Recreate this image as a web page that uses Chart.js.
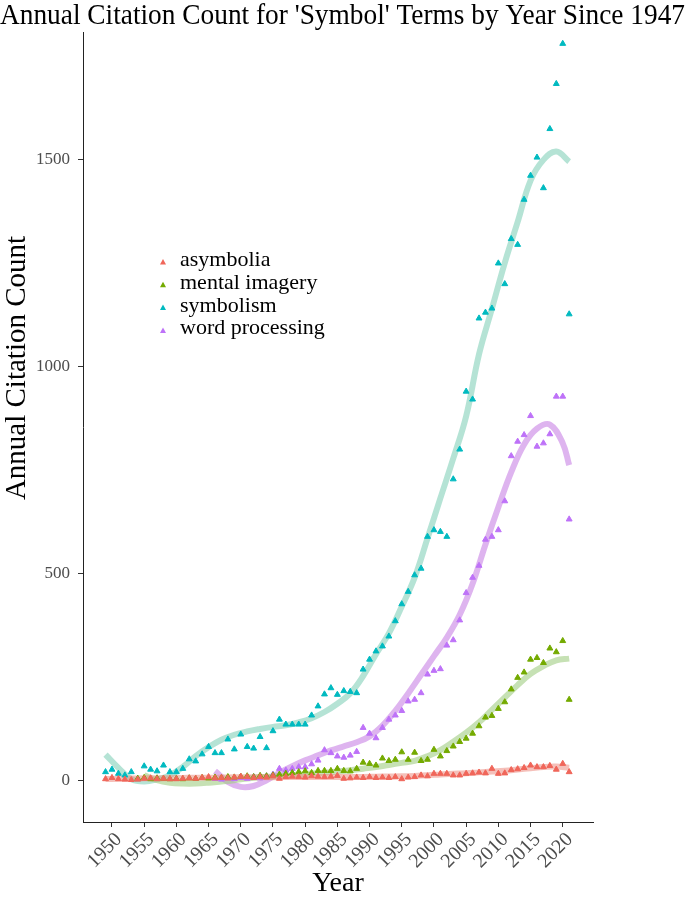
<!DOCTYPE html>
<html>
<head>
<meta charset="utf-8">
<script src="https://cdn.jsdelivr.net/npm/chart.js@4.4.1/dist/chart.umd.min.js"></script>
<style>
  html, body { margin: 0; padding: 0; background: #fff; }
  #wrap { width: 685px; height: 901px; }
</style>
</head>
<body>
<div id="wrap"><canvas id="citationChart" width="685" height="901"></canvas></div>
<script>
// ----------------- Data -----------------
const seriesNames = ['asymbolia', 'mental imagery', 'symbolism', 'word processing'];

const years = [
  1949, 1950, 1951, 1952, 1953, 1954, 1955, 1956, 1957, 1958,
  1959, 1960, 1961, 1962, 1963, 1964, 1965, 1966, 1967, 1968,
  1969, 1970, 1971, 1972, 1973, 1974, 1975, 1976, 1977, 1978,
  1979, 1980, 1981, 1982, 1983, 1984, 1985, 1986, 1987, 1988,
  1989, 1990, 1991, 1992, 1993, 1994, 1995, 1996, 1997, 1998,
  1999, 2000, 2001, 2002, 2003, 2004, 2005, 2006, 2007, 2008,
  2009, 2010, 2011, 2012, 2013, 2014, 2015, 2016, 2017, 2018,
  2019, 2020, 2021
];

const asymbolia = [
  3, 6, 3, 2, 1, 2, 4, 5, 3, 4,
  3, 3, 4, 5, 4, 6, 8, 5, 6, 5,
  7, 9, 8, 6, 8, 7, 10, 4, 8, 9,
  8, 7, 10, 9, 8, 9, 11, 4, 5, 7,
  6, 8, 6, 7, 6, 8, 3, 7, 8, 12,
  10, 16, 16, 16, 12, 12, 16, 17, 19, 17,
  28, 16, 17, 25, 27, 30, 36, 32, 32, 35,
  26, 40, 20
];

const mentalImagery = [
  null, null, null, null, null, 4, 6, 3, 5, 4,
  3, 4, 3, 5, 4, 6, 5, 7, 6, 8,
  7, 9, 10, 8, 11, 10, 12, 14, 16, 18,
  20, 22, 18, 23, 23, 23, 28, 23, 22, 28,
  43, 40, 36, 53, 47, 50, 68, 50, 67, 47,
  50, 74, 58, 71, 82, 93, 101, 113, 131, 152,
  156, 173, 189, 220, 248, 261, 292, 296, 284, 319,
  310, 337, 195
];

const symbolism = [
  20, 26, 16, 12, 20, 3, 34, 26, 22, 36,
  20, 20, 28, 51, 46, 63, 81, 66, 66, 99,
  75, 111, 81, 77, 105, 78, 119, 147, 135, 135,
  135, 135, 157, 179, 208, 223, 207, 216, 214, 211,
  268, 292, 312, 324, 348, 385, 426, 456, 496, 512,
  589, 605, 601, 589, 728, 800, 940, 921, 1117, 1131,
  1141, 1250, 1200, 1309, 1295, 1404, 1462, 1506, 1432, 1575,
  1684, 1781, 1127
];

const wordProcessing = [
  null, null, null, null, null, null, null, null, null, null,
  null, null, null, null, null, null, null, 4, 2, 5,
  3, 6, 4, 8, 5, 10, 14, 28, 24, 28,
  32, 32, 39, 48, 73, 66, 58, 55, 60, 69,
  127, 113, 102, 127, 147, 157, 168, 191, 195, 211,
  256, 265, 269, 326, 339, 387, 453, 490, 519, 582,
  589, 605, 675, 784, 819, 835, 881, 807, 815, 837,
  928, 928, 631
];

// smoothed trend lines
const trendYears = [
  1949, 1951, 1953, 1955, 1957, 1959, 1961, 1963, 1965, 1967,
  1969, 1971, 1973, 1975, 1977, 1979, 1981, 1983, 1985, 1987,
  1989, 1991, 1993, 1995, 1997, 1999, 2001, 2003, 2005, 2007,
  2009, 2011, 2013, 2015, 2017, 2019, 2021
];
const asymboliaTrend = [
  3, 3.5, 4, 4.5, 5, 5, 5.5, 6, 6, 6.5,
  7, 7, 7.5, 7.5, 8, 8, 8, 8, 8, 8,
  8, 8.5, 9, 9.5, 10.5, 12, 14, 15.5, 17, 19,
  21, 23, 26, 29, 32, 33, 30
];
const symbolismTrend = [
  62, 30, 3, -3, 2, 12, 32, 58, 80, 98,
  110, 118, 124, 129, 133, 140, 150, 165, 185, 210,
  252, 305, 355, 420, 490, 585, 682, 778, 880, 1030,
  1140, 1251, 1350, 1450, 1500, 1520, 1496
];

const mentalTrendYears = [
  1955, 1957, 1959, 1961, 1963, 1965, 1967, 1969, 1971, 1973,
  1975, 1977, 1979, 1981, 1983, 1985, 1987, 1989, 1991, 1993,
  1995, 1997, 1999, 2001, 2003, 2005, 2007, 2009, 2011, 2013,
  2015, 2017, 2019, 2021
];
const mentalTrend = [
  12, 0, -6, -8, -8, -6, -3, 0, 4, 7,
  9, 11, 13, 16, 18, 21, 24, 28, 32, 37,
  42, 47, 58, 73, 93, 115, 140, 170, 200, 230,
  257, 276, 290, 294
];

const wordTrendYears = [
  1966, 1968, 1970, 1972, 1974, 1976, 1978, 1980, 1982, 1984,
  1986, 1988, 1990, 1992, 1994, 1996, 1998, 2000, 2002, 2004,
  2006, 2008, 2010, 2012, 2014, 2016, 2018, 2020, 2021
];
const wordTrend = [
  22, -4, -16, -14, 0, 18, 34, 48, 60, 72,
  82, 92, 106, 132, 168, 210, 255, 300, 345, 400,
  475, 570, 660, 745, 812, 850, 860, 815, 762
];

const xTicks = [1950, 1955, 1960, 1965, 1970, 1975, 1980, 1985, 1990, 1995, 2000, 2005, 2010, 2015, 2020];
const yTicks = [0, 500, 1000, 1500];

// ----------------- Styles -----------------
const pointColors = ['#F0665A', '#74AA00', '#00BAC0', '#BE72F8'];
const lineColors = ['rgba(236,140,130,0.55)', 'rgba(160,205,130,0.6)', 'rgba(150,215,195,0.7)', 'rgba(205,140,230,0.65)'];
const serif = '"Liberation Serif", "Times New Roman", serif';

const toXY = (xs, ys) => xs.map((x, i) => ({ x: x, y: ys[i] })).filter(p => p.y !== null);

const pointSeries = [asymbolia, mentalImagery, symbolism, wordProcessing];
const trendSeries = [
  [trendYears, asymboliaTrend],
  [mentalTrendYears, mentalTrend],
  [trendYears, symbolismTrend],
  [wordTrendYears, wordTrend]
];

const datasets = [];
trendSeries.forEach((t, i) => {
  datasets.push({
    type: 'line',
    label: seriesNames[i] + ' trend',
    data: toXY(t[0], t[1]),
    borderColor: lineColors[i],
    borderWidth: 6,
    pointRadius: 0,
    tension: 0.4,
    fill: false,
    order: 2
  });
});
pointSeries.forEach((s, i) => {
  datasets.push({
    type: 'scatter',
    label: seriesNames[i],
    data: toXY(years, s),
    pointStyle: 'triangle',
    pointRadius: 3.4,
    pointBorderWidth: 1,
    backgroundColor: pointColors[i],
    borderColor: pointColors[i],
    showLine: false,
    order: 1
  });
});

// ----------------- Legend inside plot + y title -----------------
const insideLegend = {
  id: 'insideLegend',
  afterDraw(chart) {
    const ctx = chart.ctx;
    ctx.save();
    ctx.font = '22px ' + serif;
    ctx.textBaseline = 'alphabetic';
    seriesNames.forEach((name, i) => {
      const base = 266 + i * 22.8;
      const cx = 163, cy = base - 4;
      ctx.fillStyle = pointColors[i];
      ctx.beginPath();
      ctx.moveTo(cx, cy - 3);
      ctx.lineTo(cx + 3, cy + 2.5);
      ctx.lineTo(cx - 3, cy + 2.5);
      ctx.closePath();
      ctx.fill();
      ctx.fillStyle = '#000';
      ctx.fillText(name, 180, base);
    });
    ctx.restore();
  }
};

const yTitle = {
  id: 'yTitle',
  afterDraw(chart) {
    const ctx = chart.ctx;
    ctx.save();
    ctx.translate(17, 368);
    ctx.rotate(-Math.PI / 2);
    ctx.font = '29px ' + serif;
    ctx.fillStyle = '#000';
    ctx.textAlign = 'center';
    ctx.textBaseline = 'middle';
    ctx.fillText('Annual Citation Count', 0, 0);
    ctx.restore();
  }
};

// ----------------- Chart -----------------
Chart.defaults.font.family = serif;

const ctx = document.getElementById('citationChart').getContext('2d');
new Chart(ctx, {
  type: 'scatter',
  data: { datasets: datasets },
  options: {
    responsive: false,
    maintainAspectRatio: false,
    animation: false,
    devicePixelRatio: 1,
    layout: { padding: 0 },
    plugins: {
      legend: { display: false },
      tooltip: { enabled: false },
      title: {
        display: true,
        text: "Annual Citation Count for 'Symbol' Terms by Year Since 1947",
        color: '#000',
        font: { family: serif, size: 29.5, weight: 'normal', lineHeight: 1 },
        padding: { top: 1, bottom: 2 }
      }
    },
    scales: {
      x: {
        type: 'linear',
        min: 1945.5,
        max: 2024.7,
        afterBuildTicks: (scale) => { scale.ticks = xTicks.map(v => ({ value: v })); },
        afterFit: (scale) => { scale.height = 79; },
        border: { display: true, color: '#222', width: 1 },
        grid: { display: true, drawOnChartArea: false, drawTicks: true, tickLength: 5, color: '#333' },
        ticks: {
          autoSkip: false,
          maxRotation: 45,
          minRotation: 45,
          padding: 1,
          labelOffset: 7,
          color: '#4d4d4d',
          font: { family: serif, size: 20 },
          callback: (v) => String(v)
        },
        title: {
          display: true,
          text: 'Year',
          color: '#000',
          font: { family: serif, size: 28 },
          padding: { top: 0, bottom: 1 }
        }
      },
      y: {
        type: 'linear',
        min: -101,
        max: 1808,
        afterBuildTicks: (scale) => { scale.ticks = yTicks.map(v => ({ value: v })); },
        afterFit: (scale) => { scale.width = 83; },
        border: { display: true, color: '#222', width: 1 },
        grid: { display: true, drawOnChartArea: false, drawTicks: true, tickLength: 5, color: '#333' },
        ticks: {
          padding: 8,
          color: '#4d4d4d',
          font: { family: serif, size: 17 },
          callback: (v) => String(v)
        },
        title: { display: false }
      },
      // empty right margin, as in the reference
      yRight: {
        type: 'linear',
        position: 'right',
        display: true,
        afterFit: (scale) => { scale.width = 92; },
        border: { display: false },
        grid: { display: false },
        ticks: { display: false }
      }
    }
  },
  plugins: [insideLegend, yTitle]
});
</script>
</body>
</html>
